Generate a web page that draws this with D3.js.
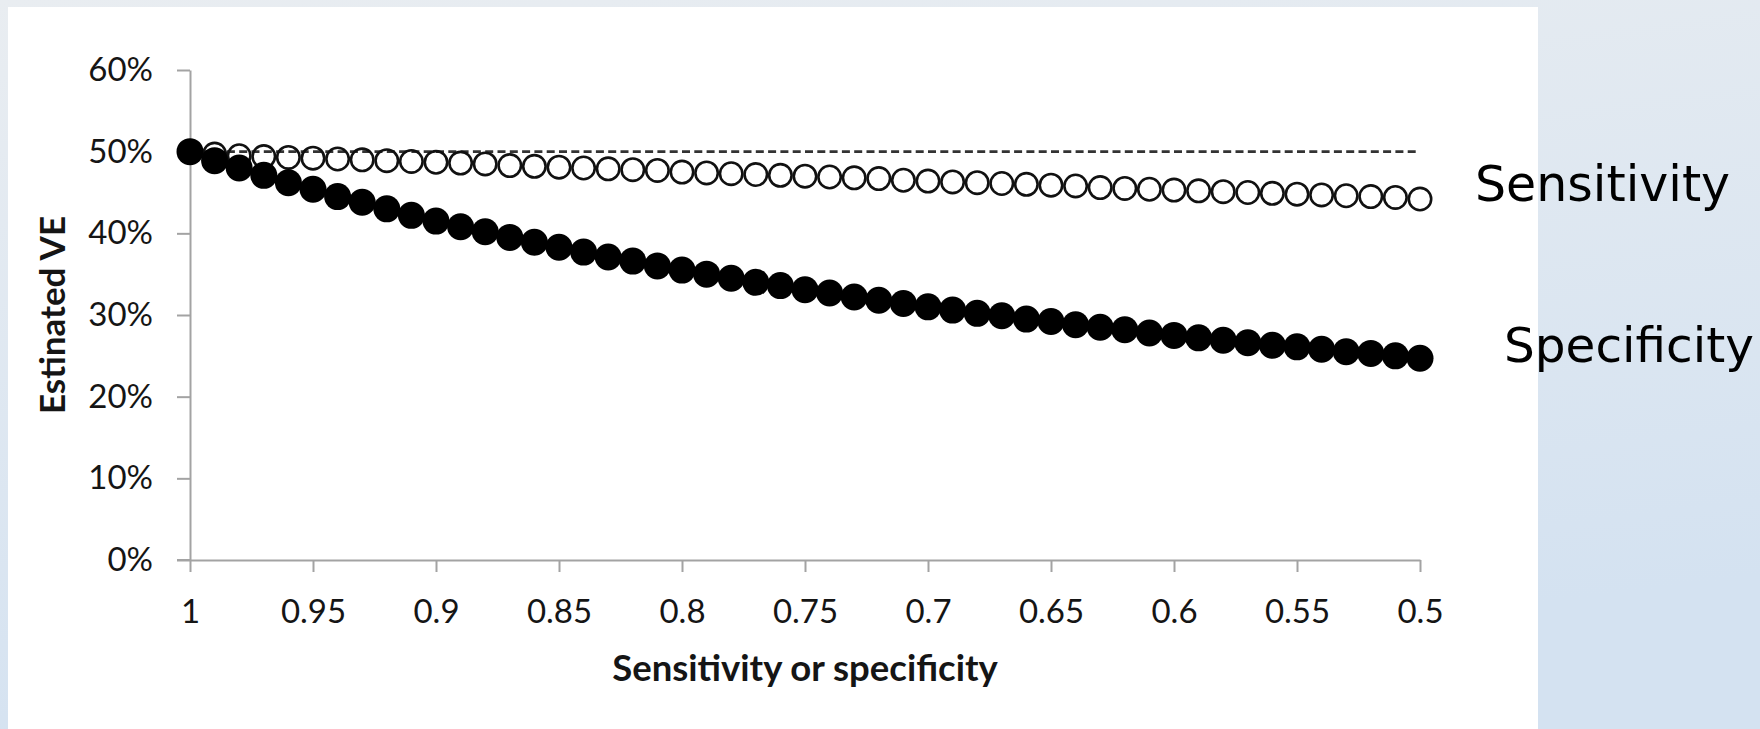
<!DOCTYPE html>
<html>
<head>
<meta charset="utf-8">
<script src="https://cdn.jsdelivr.net/npm/d3@7"></script>
<style>
  html, body { margin: 0; padding: 0; }
  body { width: 1760px; height: 729px; overflow: hidden; }
  svg text { font-family: Lato, "Open Sans", sans-serif; }
</style>
</head>
<body>
<svg id="chart" width="1760" height="729"></svg>
<script>
// x values: sensitivity or specificity, 1 down to 0.5
var xValues = [1.00, 0.99, 0.98, 0.97, 0.96, 0.95, 0.94, 0.93, 0.92, 0.91,
  0.90, 0.89, 0.88, 0.87, 0.86, 0.85, 0.84, 0.83, 0.82, 0.81,
  0.80, 0.79, 0.78, 0.77, 0.76, 0.75, 0.74, 0.73, 0.72, 0.71,
  0.70, 0.69, 0.68, 0.67, 0.66, 0.65, 0.64, 0.63, 0.62, 0.61,
  0.60, 0.59, 0.58, 0.57, 0.56, 0.55, 0.54, 0.53, 0.52, 0.51, 0.50];

// estimated VE (%) as sensitivity falls (open circles)
var sensitivityVE = [50.0, 49.7, 49.5, 49.4, 49.3, 49.2, 49.1, 49.0, 48.9, 48.8,
  48.7, 48.6, 48.5, 48.3, 48.2, 48.1, 48.0, 47.9, 47.8, 47.7,
  47.5, 47.4, 47.3, 47.2, 47.1, 47.0, 46.9, 46.8, 46.7, 46.5,
  46.4, 46.3, 46.2, 46.1, 46.0, 45.9, 45.8, 45.6, 45.5, 45.4,
  45.3, 45.2, 45.1, 45.0, 44.9, 44.8, 44.7, 44.6, 44.5, 44.4, 44.2];

// estimated VE (%) as specificity falls (filled circles)
var specificityVE = [50.0, 48.9, 48.0, 47.1, 46.2, 45.4, 44.5, 43.8, 43.0, 42.2,
  41.5, 40.8, 40.2, 39.5, 38.9, 38.3, 37.7, 37.1, 36.6, 36.0,
  35.5, 35.0, 34.5, 34.0, 33.6, 33.1, 32.7, 32.2, 31.8, 31.4,
  31.0, 30.6, 30.2, 29.9, 29.5, 29.2, 28.8, 28.5, 28.2, 27.8,
  27.5, 27.2, 26.9, 26.6, 26.3, 26.1, 25.8, 25.5, 25.3, 25.0, 24.7];

var trueVE = 50;
var xTicks = [1, 0.95, 0.9, 0.85, 0.8, 0.75, 0.7, 0.65, 0.6, 0.55, 0.5];
var yTicks = [0, 10, 20, 30, 40, 50, 60];
var seriesLabels = ["Sensitivity", "Specificity"];

var svg = d3.select("#chart");

// background gradient + white panel
var defs = svg.append("defs");
var grad = defs.append("linearGradient").attr("id", "bg")
  .attr("x1", 0).attr("y1", 0).attr("x2", 0.3).attr("y2", 1);
grad.append("stop").attr("offset", "0%").attr("stop-color", "#e9edf1");
grad.append("stop").attr("offset", "100%").attr("stop-color", "#d4e2f1");
svg.append("rect").attr("width", 1760).attr("height", 729).attr("fill", "url(#bg)");
svg.append("rect").attr("x", 8).attr("y", 7).attr("width", 1530).attr("height", 722).attr("fill", "#fff");

var x = d3.scaleLinear().domain([1, 0.5]).range([190, 1420]);
var y = d3.scaleLinear().domain([0, 60]).range([560, 70]);

// axes
var yAxis = svg.append("g").attr("transform", "translate(190,0)")
  .call(d3.axisLeft(y).tickValues(yTicks).tickSize(13).tickSizeOuter(0).tickPadding(24)
    .tickFormat(function(d){ return d + "%"; }));
var xAxis = svg.append("g").attr("transform", "translate(0,560)")
  .call(d3.axisBottom(x).tickValues(xTicks).tickSize(12).tickSizeOuter(0).tickPadding(28)
    .tickFormat(function(d){ return String(d); }));

[yAxis, xAxis].forEach(function(g){
  g.select(".domain").attr("stroke", "#a3a3a3").attr("stroke-width", 2);
  g.selectAll(".tick line").attr("stroke", "#a3a3a3").attr("stroke-width", 2);
  g.selectAll(".tick text").attr("fill", "#151515").style("font-size", "33px")
    .style("font-family", "Lato, sans-serif");
});
// x axis line runs a little left past the y axis
svg.append("line").attr("x1", 177).attr("x2", 190).attr("y1", 560).attr("y2", 560)
  .attr("stroke", "#a3a3a3").attr("stroke-width", 2);

// axis titles
svg.append("text").attr("x", (x(1) + x(0.5)) / 2).attr("y", 681)
  .attr("text-anchor", "middle").attr("font-weight", "bold").attr("font-size", 36.5)
  .attr("fill", "#151515").text("Sensitivity or specificity");
svg.append("text").attr("transform", "translate(65," + ((y(0) + y(60)) / 2) + ") rotate(-90)")
  .attr("text-anchor", "middle").attr("font-weight", "bold").attr("font-size", 35)
  .attr("fill", "#151515").text("Estinated VE");

// reference line at true VE
svg.append("line").attr("x1", x(1)).attr("x2", x(0.5))
  .attr("y1", y(trueVE)).attr("y2", y(trueVE))
  .attr("stroke", "#333").attr("stroke-width", 2.6).attr("stroke-dasharray", "8,4.3");

// open circles - sensitivity
svg.append("g").selectAll("circle").data(xValues).enter().append("circle")
  .attr("cx", function(d){ return x(d); })
  .attr("cy", function(d, i){ return y(sensitivityVE[i]); })
  .attr("r", 11.2).attr("fill", "none").attr("stroke", "#111").attr("stroke-width", 2.6);

// filled circles - specificity
svg.append("g").selectAll("circle").data(xValues).enter().append("circle")
  .attr("cx", function(d){ return x(d); })
  .attr("cy", function(d, i){ return y(specificityVE[i]); })
  .attr("r", 13.5).attr("fill", "#000");

// series labels at the right
svg.append("text").attr("x", 1475).attr("y", 201)
  .style("font-family", "'DejaVu Sans', Verdana, sans-serif").attr("font-size", 49)
  .attr("fill", "#000").text(seriesLabels[0]);
svg.append("text").attr("x", 1504).attr("y", 362)
  .style("font-family", "'DejaVu Sans', Verdana, sans-serif").attr("font-size", 48.5)
  .attr("fill", "#000").text(seriesLabels[1]);
</script>
</body>
</html>
